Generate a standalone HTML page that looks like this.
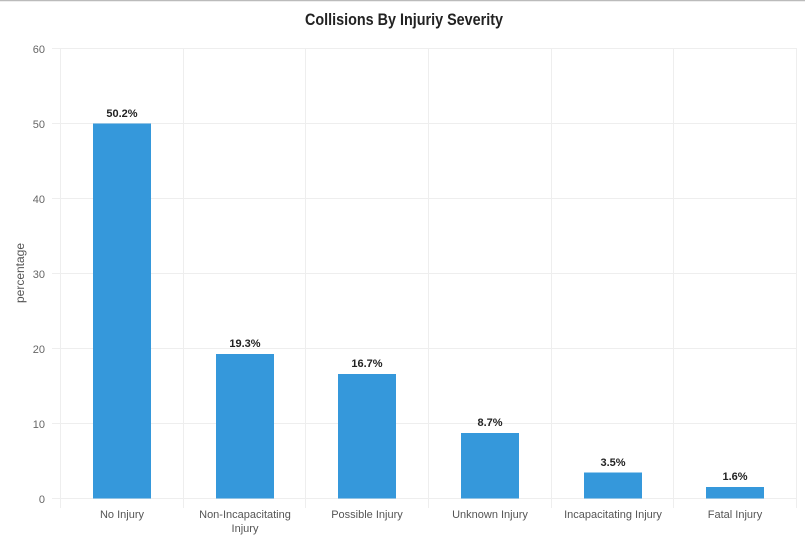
<!DOCTYPE html>
<html><head><meta charset="utf-8"><style>
html,body{margin:0;padding:0;background:#fff;width:805px;height:545px;overflow:hidden}
svg text{font-family:"Liberation Sans",sans-serif}
</style></head><body>
<svg width="805" height="545" xmlns="http://www.w3.org/2000/svg">
<line x1="0" y1="0.5" x2="805" y2="0.5" stroke="#bbb" stroke-width="1.5"/>
<text x="404" y="25" text-anchor="middle" font-size="17" font-weight="bold" fill="#222" textLength="198" lengthAdjust="spacingAndGlyphs">Collisions By Injuriy Severity</text>
<g stroke="#eeeeee" stroke-width="1">
<line x1="52" y1="48.5" x2="797" y2="48.5"/>
<line x1="52" y1="123.5" x2="797" y2="123.5"/>
<line x1="52" y1="198.5" x2="797" y2="198.5"/>
<line x1="52" y1="273.5" x2="797" y2="273.5"/>
<line x1="52" y1="348.5" x2="797" y2="348.5"/>
<line x1="52" y1="423.5" x2="797" y2="423.5"/>
<line x1="52" y1="498.5" x2="797" y2="498.5"/>
<line x1="60.5" y1="48" x2="60.5" y2="508"/>
<line x1="183.5" y1="48" x2="183.5" y2="508"/>
<line x1="305.5" y1="48" x2="305.5" y2="508"/>
<line x1="428.5" y1="48" x2="428.5" y2="508"/>
<line x1="551.5" y1="48" x2="551.5" y2="508"/>
<line x1="673.5" y1="48" x2="673.5" y2="508"/>
<line x1="796.5" y1="48" x2="796.5" y2="508"/>
</g>
<g font-size="11" fill="#666" text-anchor="end">
<text x="45" y="53">60</text><text x="45" y="128">50</text><text x="45" y="203">40</text>
<text x="45" y="278">30</text><text x="45" y="353">20</text><text x="45" y="428">10</text><text x="45" y="503">0</text>
</g>
<text transform="translate(24,273) rotate(-90)" text-anchor="middle" font-size="12" fill="#555">percentage</text>
<g fill="#3598db">
<rect x="93" y="123.5" width="58" height="375"/>
<rect x="216" y="354" width="58" height="144.5"/>
<rect x="338" y="374" width="58" height="124.5"/>
<rect x="461" y="433" width="58" height="65.5"/>
<rect x="584" y="472.5" width="58" height="26"/>
<rect x="706" y="487" width="58" height="11.5"/>
</g>
<g font-size="11" font-weight="bold" fill="#222" text-anchor="middle">
<text x="122" y="117">50.2%</text>
<text x="245" y="347">19.3%</text>
<text x="367" y="367">16.7%</text>
<text x="490" y="426">8.7%</text>
<text x="613" y="466">3.5%</text>
<text x="735" y="480">1.6%</text>
</g>
<g font-size="11" fill="#555" text-anchor="middle">
<text x="122" y="518">No Injury</text>
<text x="245" y="518">Non-Incapacitating</text>
<text x="245" y="532">Injury</text>
<text x="367" y="518">Possible Injury</text>
<text x="490" y="518">Unknown Injury</text>
<text x="613" y="518">Incapacitating Injury</text>
<text x="735" y="518">Fatal Injury</text>
</g>
</svg>
</body></html>
